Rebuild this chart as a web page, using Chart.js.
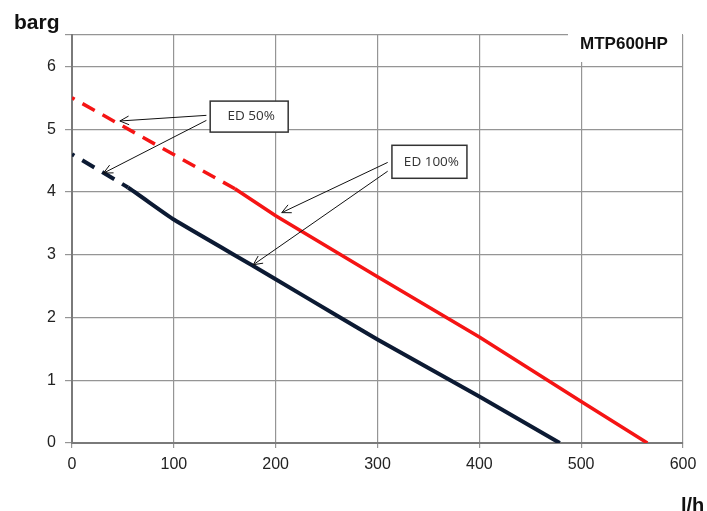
<!DOCTYPE html>
<html>
<head>
<meta charset="utf-8">
<script src="https://cdn.jsdelivr.net/npm/chart.js@4.4.1/dist/chart.umd.min.js"></script>
<style>
  body { margin: 0; background: #fff; }
  #wrap { width: 707px; height: 511px; position: relative; }
</style>
</head>
<body>
<div id="wrap"><canvas id="chart" width="707" height="511"></canvas></div>
<script>
// flow (l/h) vs pressure (barg)
const ed100Flow  = [0, 160, 200, 300, 400, 500, 565];
const ed100Press = [5.5, 4.05, 3.62, 2.65, 1.69, 0.66, 0];
const ed50Flow   = [0, 55, 100, 176, 200, 260, 300, 400, 479];
const ed50Press  = [4.6, 4.07, 3.56, 2.84, 2.61, 2.03, 1.65, 0.74, 0];

// dashed up to these flows
const ed100DashEnd = 160;
const ed50DashEnd = 55;

const xTicks = [0, 100, 200, 300, 400, 500, 600];
const yTicks = [0, 1, 2, 3, 4, 5, 6, 6.5];

// callouts: box centre + arrow start/end, all in data units
const callouts = [
  { text: 'ED 50%', box: [174, 5.2], w: 78, h: 31,
    arrows: [[[132, 5.22], [47, 5.13]], [[132, 5.14], [31, 4.3]]] },
  { text: 'ED 100%', box: [351, 4.48], w: 75, h: 33,
    arrows: [[[310, 4.47], [206, 3.67]], [[310, 4.33], [178, 2.84]]] }
];

function toXY(xs, ys) {
  return xs.map((x, i) => ({ x: x, y: ys[i] }));
}

function dashUntil(limit) {
  return ctx => ctx.p1.parsed.x <= limit ? [14, 9] : undefined;
}

const GRID = '#959595';

const extras = {
  id: 'extras',
  afterDatasetsDraw(chart) {
    const c = chart.ctx;
    const xs = chart.scales.x, ys = chart.scales.y;
    c.save();

    // callout boxes + arrows
    callouts.forEach(co => {
      const cx = xs.getPixelForValue(co.box[0]);
      const cy = ys.getPixelForValue(co.box[1]);
      c.fillStyle = '#fff';
      c.strokeStyle = '#333';
      c.lineWidth = 1.5;
      c.fillRect(cx - co.w / 2, cy - co.h / 2, co.w, co.h);
      c.strokeRect(cx - co.w / 2, cy - co.h / 2, co.w, co.h);
      c.fillStyle = '#333';
      c.font = '13.5px "Open Sans", sans-serif';
      c.textAlign = 'center';
      c.textBaseline = 'middle';
      c.fillText(co.text, cx + 2, cy);

      co.arrows.forEach(a => {
        const x0 = xs.getPixelForValue(a[0][0]), y0 = ys.getPixelForValue(a[0][1]);
        const x1 = xs.getPixelForValue(a[1][0]), y1 = ys.getPixelForValue(a[1][1]);
        const ang = Math.atan2(y1 - y0, x1 - x0);
        c.strokeStyle = '#111';
        c.lineWidth = 1;
        c.beginPath();
        c.moveTo(x0, y0);
        c.lineTo(x1, y1);
        c.stroke();
        c.beginPath();
        c.moveTo(x1 - 10 * Math.cos(ang - 0.45), y1 - 10 * Math.sin(ang - 0.45));
        c.lineTo(x1, y1);
        c.lineTo(x1 - 10 * Math.cos(ang + 0.45), y1 - 10 * Math.sin(ang + 0.45));
        c.stroke();
      });
    });

    // model label sits over the top border
    const right = chart.chartArea.right;
    c.fillStyle = '#fff';
    c.fillRect(right - 115, 27, 114, 35);
    c.fillStyle = '#111';
    c.font = 'bold 17px "Liberation Sans", Arial, sans-serif';
    c.textAlign = 'center';
    c.textBaseline = 'middle';
    c.fillText('MTP600HP', right - 59, 44);

    // axis units
    c.font = 'bold 21px "Liberation Sans", Arial, sans-serif';
    c.textAlign = 'left';
    c.textBaseline = 'alphabetic';
    c.fillText('barg', 14, 29);
    c.font = 'bold 20px "Liberation Sans", Arial, sans-serif';
    c.fillText('l/h', 681, 512);
    c.restore();
  }
};

new Chart(document.getElementById('chart'), {
  type: 'line',
  data: {
    datasets: [
      {
        label: 'ED 100%',
        data: toXY(ed100Flow, ed100Press),
        borderColor: '#f51414',
        borderWidth: 3.5,
        pointRadius: 0,
        tension: 0,
        segment: { borderDash: dashUntil(ed100DashEnd) },
        borderDashOffset: 11
      },
      {
        label: 'ED 50%',
        data: toXY(ed50Flow, ed50Press),
        borderColor: '#0c1a33',
        borderWidth: 4,
        pointRadius: 0,
        tension: 0.15,
        segment: { borderDash: dashUntil(ed50DashEnd) },
        borderDashOffset: 11
      }
    ]
  },
  options: {
    responsive: false,
    animation: false,
    layout: { padding: { top: 35, right: 24, left: 0, bottom: 0 } },
    plugins: { legend: { display: false }, tooltip: { enabled: false } },
    scales: {
      x: {
        type: 'linear',
        min: 0,
        max: 600,
        afterBuildTicks: s => { s.ticks = xTicks.map(v => ({ value: v })); },
        afterFit: s => { s.height = 68; },
        grid: { color: GRID, lineWidth: 1.2, tickLength: 5 },
        border: { color: '#7a7a7a', width: 2 },
        ticks: {
          color: '#222',
          padding: 7,
          maxRotation: 0,
          font: { family: '"Liberation Sans", Arial, sans-serif', size: 16 }
        }
      },
      y: {
        type: 'linear',
        min: 0,
        max: 6.5,
        afterBuildTicks: s => { s.ticks = yTicks.map(v => ({ value: v })); },
        afterFit: s => { s.width = 72; },
        grid: { color: GRID, lineWidth: 1.2, tickLength: 7 },
        border: { color: '#7a7a7a', width: 2 },
        ticks: {
          color: '#222',
          padding: 9,
          callback: v => (v % 1 === 0 ? String(v) : ''),
          font: { family: '"Liberation Sans", Arial, sans-serif', size: 16 }
        }
      }
    }
  },
  plugins: [extras]
});
</script>
</body>
</html>
